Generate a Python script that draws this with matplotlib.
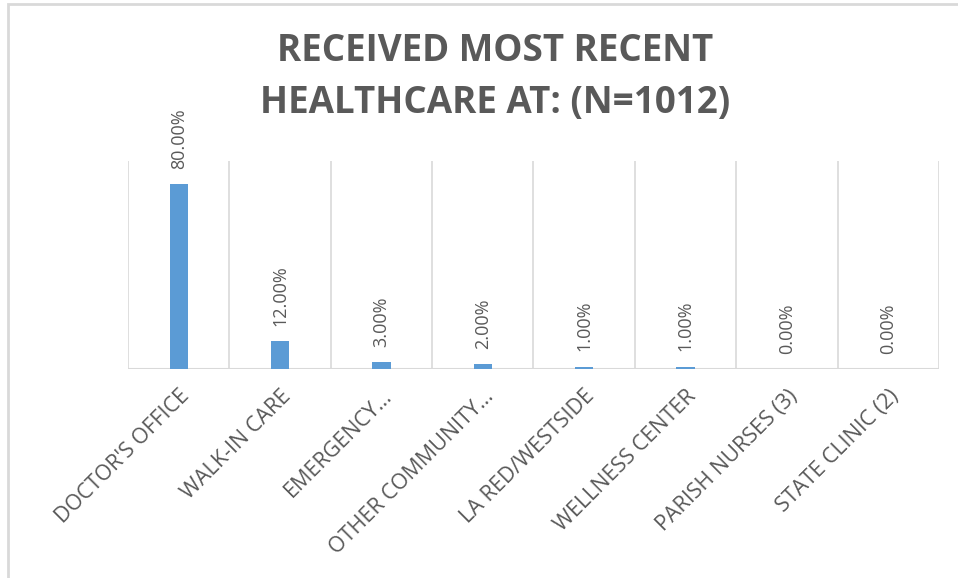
import matplotlib
matplotlib.use("Agg")
import matplotlib.pyplot as plt
from matplotlib.patches import Rectangle

# where respondents received their most recent healthcare
categories = [
    "DOCTOR'S OFFICE",
    "WALK-IN CARE",
    "EMERGENCY…",
    "OTHER COMMUNITY…",
    "LA RED/WESTSIDE",
    "WELLNESS CENTER",
    "PARISH NURSES (3)",
    "STATE CLINIC (2)",
]
shares = [0.80, 0.12, 0.03, 0.02, 0.01, 0.01, 0.00, 0.00]
value_labels = ["80.00%", "12.00%", "3.00%", "2.00%", "1.00%", "1.00%", "0.00%", "0.00%"]

title = "RECEIVED MOST RECENT\nHEALTHCARE AT: (N=1012)"

BAR_COLOR = "#5B9BD5"
TEXT_COLOR = "#595959"
GRID_COLOR = "#D9D9D9"

fig = plt.figure(figsize=(9.58, 5.78), dpi=100)
ax = fig.add_axes([128 / 958, 1 - 369 / 578, (939 - 128) / 958, (369 - 161) / 578])

x = list(range(len(categories)))
ax.bar(x, shares, width=0.18, color=BAR_COLOR, zorder=3)

for xi, val, lab in zip(x, shares, value_labels):
    ax.annotate(lab, (xi, val), xytext=(0, 11), textcoords="offset points",
                rotation=90, ha="center", va="bottom", fontsize=13,
                family="Open Sans", color=TEXT_COLOR)

ax.set_xlim(-0.5, len(categories) - 0.5)
ax.set_ylim(0, 0.9)

# vertical separators between categories
for b in range(len(categories) + 1):
    ax.axvline(b - 0.5, color=GRID_COLOR, linewidth=1.2, zorder=1)
ax.axhline(0, color=GRID_COLOR, linewidth=1.5, zorder=2)

for s in ax.spines.values():
    s.set_visible(False)
ax.set_yticks([])
ax.set_xticks(x)
ax.set_xticklabels(categories, rotation=45, ha="right", va="top",
                   rotation_mode="anchor", fontsize=15.5, family="Open Sans",
                   color=TEXT_COLOR)
ax.tick_params(axis="x", length=0, pad=12)

fig.text(495 / 958, 1 - 77 / 578, title, ha="center", va="center",
         fontsize=26.5, fontweight="bold", family="Open Sans",
         color=TEXT_COLOR, linespacing=1.5)

# chart frame
fig.patches.append(Rectangle((8 / 958, -0.1), 1.2, 1 - 4 / 578 + 0.1,
                             transform=fig.transFigure, fill=False,
                             edgecolor=GRID_COLOR, linewidth=2))

fig.savefig("out.png", dpi=100)
